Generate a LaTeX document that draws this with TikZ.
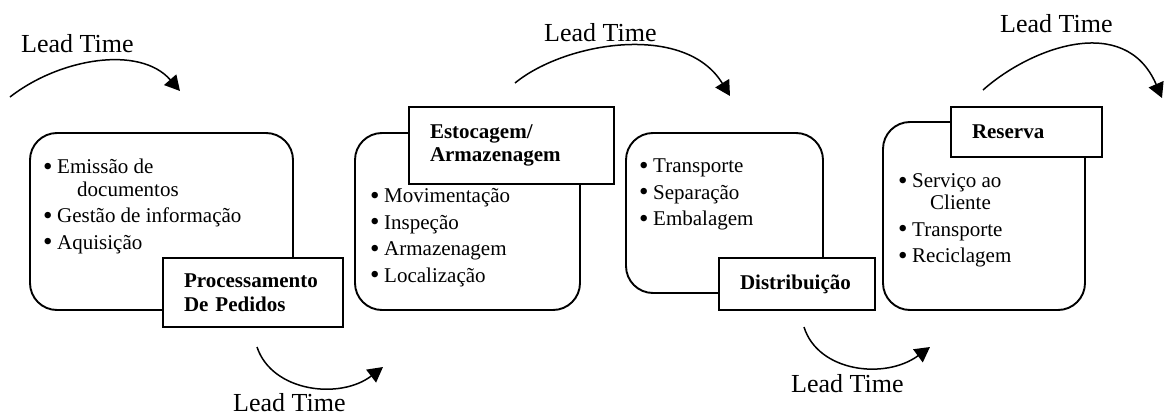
\documentclass[tikz,border=0pt]{standalone}
\usepackage{fontspec}
\setmainfont{Liberation Serif}
\usetikzlibrary{arrows.meta}
\newcommand\bul{\makebox[14pt][l]{\raisebox{-1.8pt}{\fontsize{27}{27}\selectfont\textbullet}}}
\begin{document}
\begin{tikzpicture}[x=1pt,y=-1pt,
  stagebox/.style={draw,line width=1.9pt,rounded corners=27pt,inner sep=0pt},
  titlebox/.style={draw,line width=1.9pt,fill=white,inner xsep=21pt,inner ysep=0pt,
    align=left,font=\fontsize{21}{23.5}\selectfont\bfseries},
  itemlist/.style={inner sep=0pt,align=left,anchor=base west,
    font=\fontsize{21}{26.5}\selectfont},
  flow/.style={line width=1.5pt,-{Triangle[length=15pt,width=16pt]}},
  leadlabel/.style={inner sep=0pt,anchor=base west,font=\fontsize{26}{30}\selectfont}]
\useasboundingbox (0,0) rectangle (1168,415);

% stage frames
\node[stagebox,minimum width=263pt,minimum height=177pt] (s1) at (161.5,221.5) {};
\node[stagebox,minimum width=225pt,minimum height=177pt] (s2) at (467.5,221.5) {};
\node[stagebox,minimum width=197pt,minimum height=160pt] (s3) at (724.5,213) {};
\node[stagebox,minimum width=202pt,minimum height=188pt] (s4) at (984,216) {};

% stage titles
\node[titlebox,text width=138pt,minimum height=69pt] (t1) at (253,292.5) {Processamento\\De Pedidos};
\node[titlebox,text width=163pt,minimum height=77pt] (t2) at (511.5,145.5) {Estocagem/\\Armazenagem};
\node[titlebox,text width=114pt,minimum height=52pt] (t3) at (797,284) {Distribuição};
\node[titlebox,text width=109pt,minimum height=50pt] (t4) at (1026.5,132) {Reserva};

% activity lists (placed by the baseline of their last line)
\node[itemlist] (l1) at (43,249) {\bul Emissão de\\[-4pt]\hspace*{34pt}documentos\\\bul Gestão de informação\\\bul Aquisição};
\node[itemlist] (l2) at (370,282) {\bul Movimentação\\\bul Inspeção\\\bul Armazenagem\\\bul Localização};
\node[itemlist] (l3) at (639,225.5) {\bul Transporte\\\bul Separação\\\bul Embalagem};
\node[itemlist] (l4) at (898,262.5) {\bul Serviço ao\\[-4.5pt]\hspace*{32pt}Cliente\\\bul Transporte\\\bul Reciclagem};

% lead time arrows
\coordinate (a1s) at (10,97);   \coordinate (a1e) at (180,91);
\coordinate (a2s) at (257,347); \coordinate (a2e) at (383,367);
\coordinate (a3s) at (515,83);  \coordinate (a3e) at (730,96);
\coordinate (a4s) at (804,327); \coordinate (a4e) at (930,347);
\coordinate (a5s) at (983,90);  \coordinate (a5e) at (1162,98);
\draw[flow] (a1s) .. controls (60,58) and (140,45) .. (a1e);
\draw[flow] (a2s) .. controls (272,392) and (340,400) .. (a2e);
\draw[flow] (a3s) .. controls (565,42) and (685,22) .. (a3e);
\draw[flow] (a4s) .. controls (818,372) and (885,380) .. (a4e);
\draw[flow] (a5s) .. controls (1030,48) and (1125,12) .. (a5e);

\node[leadlabel] (n1) at (21,52) {Lead Time};
\node[leadlabel] (n2) at (233,411) {Lead Time};
\node[leadlabel] (n3) at (544,41) {Lead Time};
\node[leadlabel] (n4) at (791,392) {Lead Time};
\node[leadlabel] (n5) at (1000,32) {Lead Time};
\end{tikzpicture}
\end{document}
